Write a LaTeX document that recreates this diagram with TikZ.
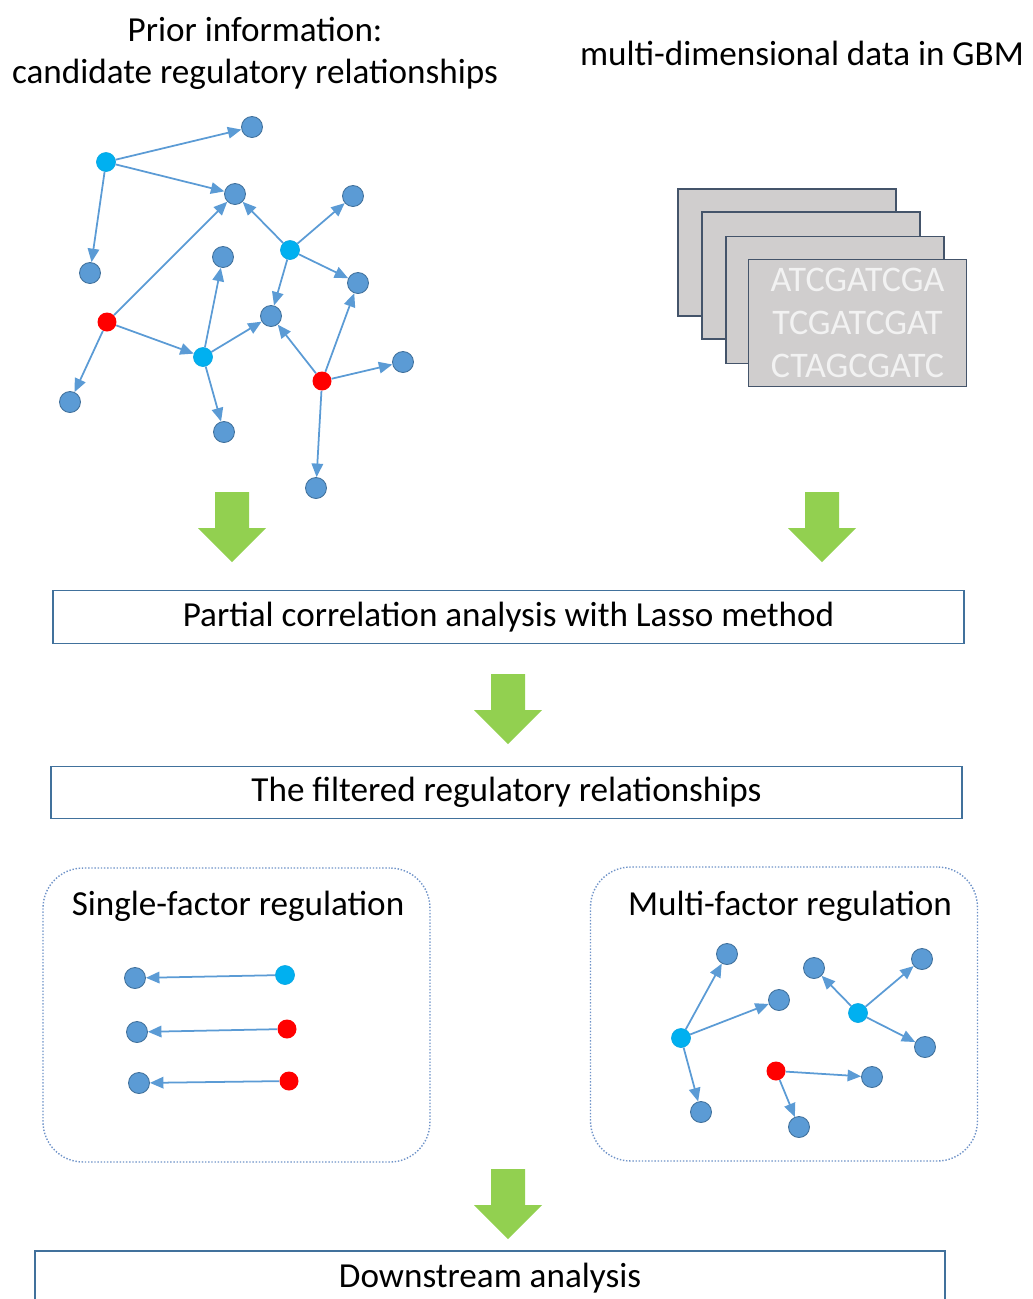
\documentclass[tikz,border=0pt]{standalone}
\usepackage{fontspec}
\setmainfont{Carlito}
\usetikzlibrary{arrows.meta}

\definecolor{geneblue}{HTML}{5B9BD5}
\definecolor{geneline}{HTML}{41719C}
\definecolor{tfcyan}{HTML}{00B0F0}
\definecolor{mirred}{HTML}{FF0000}
\definecolor{flowgreen}{HTML}{92D050}
\definecolor{seqgray}{HTML}{D0CECE}
\definecolor{seqline}{HTML}{44546A}
\definecolor{groupline}{HTML}{6F93C8}

\begin{document}
\begin{tikzpicture}[x=0.02cm, y=-0.02cm, >={Triangle[length=0.27cm,width=0.23cm]},
  font=\fontsize{20}{24}\selectfont,
  target/.style={circle, fill=geneblue, draw=geneline, line width=0.5pt, minimum size=0.42cm, inner sep=0pt},
  tf/.style={circle, fill=tfcyan, draw=tfcyan!85!geneline, line width=0.4pt, minimum size=0.38cm, inner sep=0pt},
  mir/.style={circle, fill=mirred, minimum size=0.38cm, inner sep=0pt},
  link/.style={->, color=geneblue, line width=1pt},
  stepbox/.style={draw=geneline, line width=0.8pt, minimum width=18.22cm, minimum height=1.05cm},
  group/.style={draw=groupline, densely dotted, line width=0.8pt, rounded corners=0.8cm, minimum width=7.74cm, minimum height=5.88cm},
  card/.style={fill=seqgray, draw=seqline, line width=0.9pt, minimum width=4.36cm, minimum height=2.54cm},
  downarrow/.pic={\fill[flowgreen] (-17,0) -- (17,0) -- (17,36) -- (34,36) -- (0,70) -- (-34,36) -- (-17,36) -- cycle;}
]
\useasboundingbox (0,0) rectangle (1032,1299);
\clip (0,0) rectangle (1032,1299);

% headings
\node[align=center] (prior) at (255,53) {Prior information:\\candidate regulatory relationships};
\node (data) at (802,53) {multi-dimensional data in GBM};

% prior network
\node[tf]     (c1)  at (106,162) {};
\node[tf]     (c2)  at (290,250) {};
\node[tf]     (c3)  at (203,357) {};
\node[mir]    (r1)  at (107,322) {};
\node[mir]    (r2)  at (322,381) {};
\node[target] (t1)  at (252,127) {};
\node[target] (t2)  at (235,194) {};
\node[target] (t3)  at (353,196) {};
\node[target] (t4)  at (90,273)  {};
\node[target] (t5)  at (223,257) {};
\node[target] (t6)  at (358,283) {};
\node[target] (t7)  at (271,316) {};
\node[target] (t8)  at (403,362) {};
\node[target] (t9)  at (70,402)  {};
\node[target] (t10) at (224,432) {};
\node[target] (t11) at (316,488) {};

\path[link] (c1) edge (t1) edge (t2) edge (t4)
            (c2) edge (t2) edge (t3) edge (t6) edge (t7)
            (c3) edge (t5) edge (t7) edge (t10)
            (r1) edge (t2) edge (c3) edge (t9)
            (r2) edge (t7) edge (t6) edge (t8) edge (t11);

% stacked sequence data
\node[card] (card1) at (787,252.5) {};
\node[card] (card2) at (811,275.5) {};
\node[card] (card3) at (835,300)   {};
\node[card, text=white!95!black, align=center, font=\fontsize{20.5}{24.5}\selectfont] (card4) at (857.5,323)
  {ATCGATCGA\\TCGATCGAT\\CTAGCGATC};

% workflow
\pic at (232,492) {downarrow};
\pic at (822,492) {downarrow};
\node[stepbox] (lasso) at (508.5,617) {Partial correlation analysis with Lasso method};
\pic at (508,674) {downarrow};
\node[stepbox] (filtered) at (506.5,792.5) {The filtered regulatory relationships};

% single-factor group
\node[group] (single) at (236.5,1015) {};
\node (singletitle) at (238,906) {Single-factor regulation};
\node[target] (s1) at (135,978)  {};
\node[tf]     (u1) at (285,975)  {};
\node[target] (s2) at (137,1032) {};
\node[mir]    (u2) at (287,1029) {};
\node[target] (s3) at (139,1083) {};
\node[mir]    (u3) at (289,1081) {};
\path[link] (u1) edge (s1) (u2) edge (s2) (u3) edge (s3);

% multi-factor group
\node[group] (multi) at (784,1014) {};
\node (multititle) at (790,906) {Multi-factor regulation};
\node[tf]     (ma)  at (681,1038) {};
\node[target] (ma1) at (727,954)  {};
\node[target] (ma2) at (779,1000) {};
\node[target] (ma3) at (701,1112) {};
\node[tf]     (mb)  at (858,1013) {};
\node[target] (mb1) at (814,968)  {};
\node[target] (mb2) at (922,959)  {};
\node[target] (mb3) at (925,1047) {};
\node[mir]    (mc)  at (776,1071) {};
\node[target] (mc1) at (872,1077) {};
\node[target] (mc2) at (799,1127) {};
\path[link] (ma) edge (ma1) edge (ma2) edge (ma3)
            (mb) edge (mb1) edge (mb2) edge (mb3)
            (mc) edge (mc1) edge (mc2);

\pic at (508,1169) {downarrow};
\draw[draw=geneline, line width=0.8pt] (35,1251) rectangle (945,1330);
\node (downstream) at (490,1278) {Downstream analysis};
\end{tikzpicture}
\end{document}
